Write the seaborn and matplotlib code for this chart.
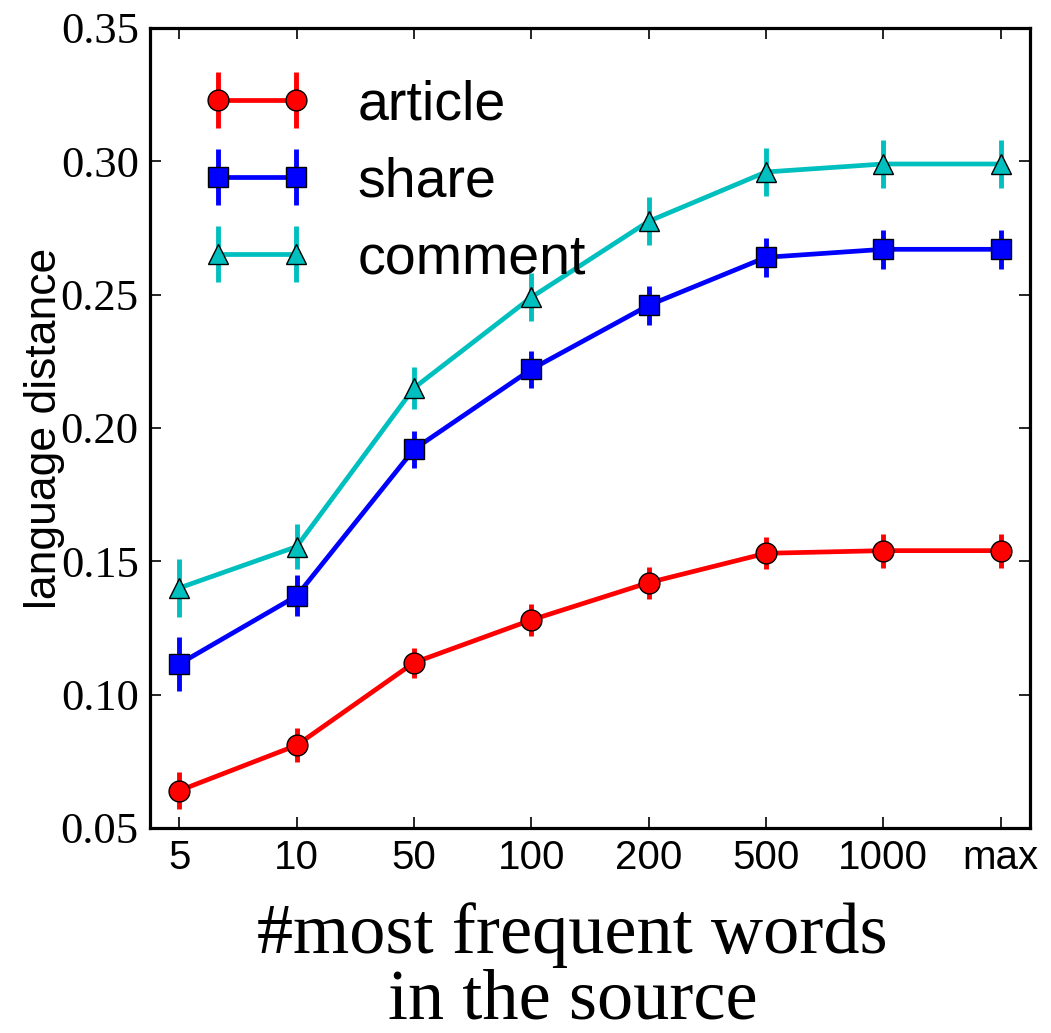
import numpy as np
import pandas as pd
import matplotlib
matplotlib.use("Agg")
import matplotlib.pyplot as plt
import seaborn as sns
from matplotlib.container import ErrorbarContainer

# Number of most frequent source words considered
word_counts = ["5", "10", "50", "100", "200", "500", "1000", "max"]

# Language distance per source type
article = [0.064, 0.081, 0.112, 0.128, 0.142, 0.153, 0.154, 0.154]
share = [0.1115, 0.137, 0.192, 0.222, 0.246, 0.264, 0.267, 0.267]
comment = [0.140, 0.1555, 0.215, 0.249, 0.2775, 0.296, 0.299, 0.299]

# Error bar half-widths
article_err = [0.007, 0.0063, 0.0056, 0.006, 0.006, 0.006, 0.0064, 0.0064]
share_err = [0.010, 0.0077, 0.007, 0.007, 0.0072, 0.0073, 0.0073, 0.0073]
comment_err = [0.011, 0.0084, 0.008, 0.009, 0.009, 0.009, 0.009, 0.009]

series_names = ["article", "share", "comment"]
series_vals = [article, share, comment]
series_errs = [article_err, share_err, comment_err]
colors = {"article": "#ff0000", "share": "#0000ff", "comment": "#00bfbf"}
markers = {"article": "o", "share": "s", "comment": "^"}

sns.set_theme(style="ticks")
plt.rcParams.update({
    "axes.linewidth": 2.3,
    "text.color": "black",
    "axes.labelcolor": "black",
    "xtick.color": "black",
    "ytick.color": "black",
})

pos = np.arange(len(word_counts))
df = pd.DataFrame({
    "pos": np.tile(pos, len(series_names)),
    "value": np.concatenate(series_vals),
    "source": np.repeat(series_names, len(word_counts)),
})

fig = plt.figure(figsize=(10.51, 10.33), dpi=100)
ax = fig.add_axes([0.1427, 0.1985, 0.8373, 0.7744])

# vertical error bars drawn beneath the lines
bar_sets = []
for name, vals, errs in zip(series_names, series_vals, series_errs):
    eb = ax.errorbar(pos, vals, yerr=errs, fmt="none", ecolor=colors[name],
                     elinewidth=3.5, capsize=0, zorder=2)
    bar_sets.append(eb)

sns.lineplot(data=df, x="pos", y="value", hue="source", style="source",
             hue_order=series_names, style_order=series_names,
             palette=colors, markers=markers, dashes=False, errorbar=None,
             markersize=15, linewidth=3.4, markeredgecolor="black",
             markeredgewidth=1.0, legend=False, sort=False, ax=ax, zorder=3)

lines = ax.get_lines()[-len(series_names):]
handles = [ErrorbarContainer((ln, (), eb.lines[2]), has_xerr=False, has_yerr=True)
           for ln, eb in zip(lines, bar_sets)]
leg = ax.legend(handles, series_names, loc="upper left", frameon=False, numpoints=2,
                handlelength=2.0, handletextpad=0.8, labelspacing=0.45,
                borderaxespad=0.5, borderpad=0.43,
                prop={"family": "Liberation Sans", "size": 40})
for t in leg.get_texts():
    t.set_color("black")

ax.set_xlim(-0.25, 7.25)
ax.set_ylim(0.05, 0.35)
ax.set_xticks(pos)
ax.set_xticklabels(word_counts, family="Liberation Sans", fontsize=29)
yt = np.arange(0.05, 0.351, 0.05)
ax.set_yticks(yt)
ax.set_yticklabels([f"{v:.2f}" for v in yt], family="Liberation Serif", fontsize=32)
ax.tick_params(direction="in", length=8, width=1.2, top=True, right=True,
               colors="black", pad=8)
for sp in ax.spines.values():
    sp.set_color("black")
    sp.set_linewidth(2.3)

ax.set_ylabel("language distance", family="Liberation Sans", fontsize=32,
              labelpad=-3)
ax.set_xlabel("#most frequent words\nin the source", family="Liberation Serif",
              fontsize=52, linespacing=1.0)
ax.xaxis.set_label_coords(0.48, -0.093, transform=ax.transAxes)
ax.xaxis.label.set_va("top")

fig.savefig("out.png", dpi=100, facecolor="white")
